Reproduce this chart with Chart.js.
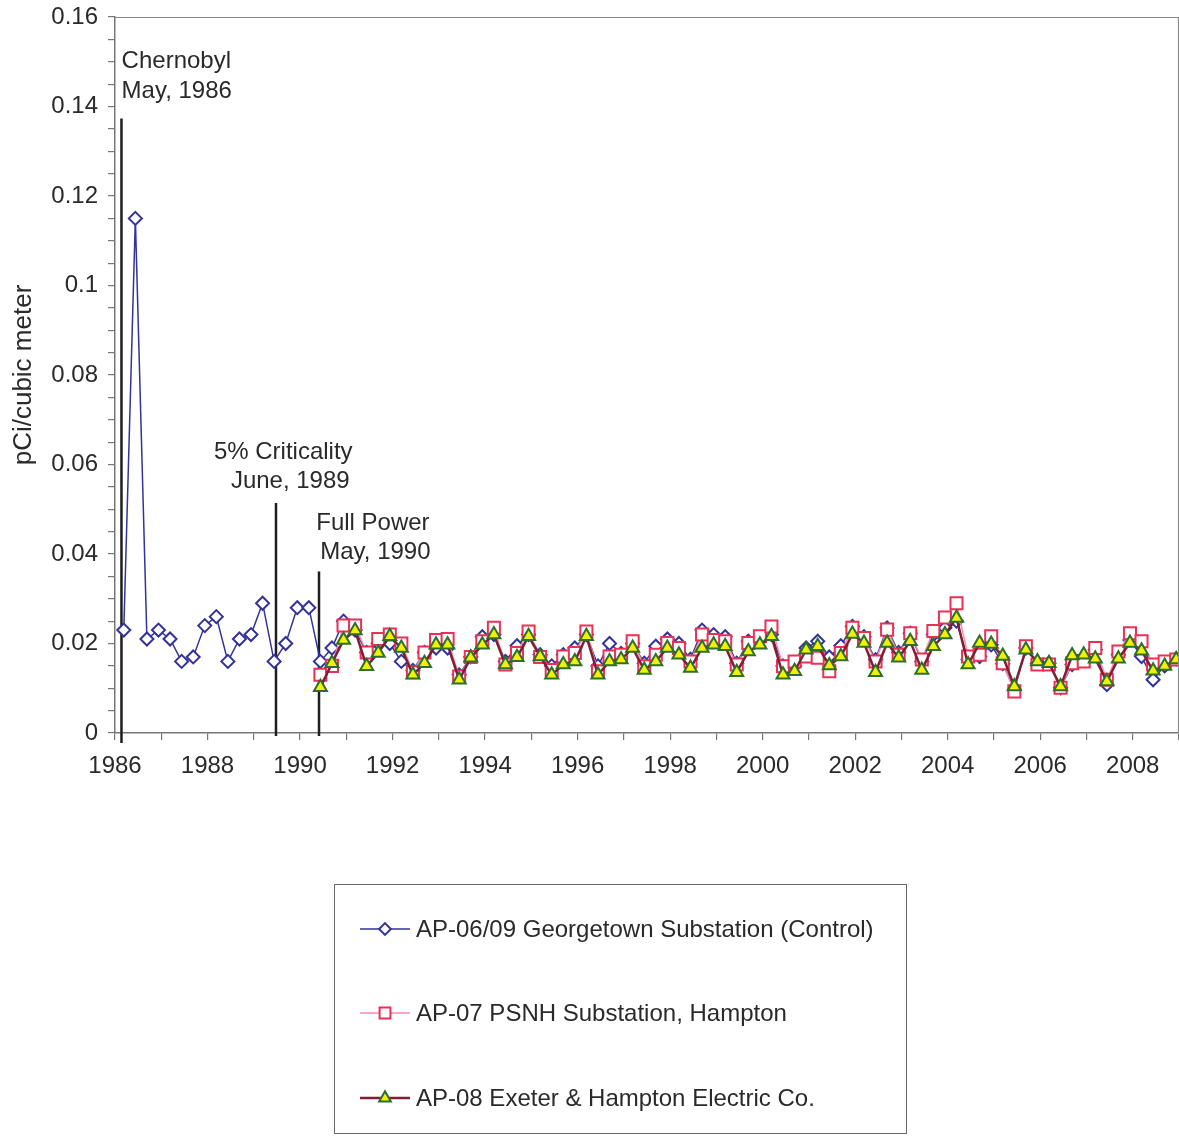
<!DOCTYPE html>
<html>
<head>
<meta charset="utf-8">
<script src="https://cdn.jsdelivr.net/npm/chart.js@4.4.1/dist/chart.umd.min.js"></script>
<style>
  html, body { margin: 0; padding: 0; background: #fff; }
  #wrap { position: relative; width: 1179px; height: 1137px; }
</style>
</head>
<body>
<div id="wrap"><canvas id="chart"></canvas></div>
<script>
// Quarterly air particulate samples, pCi per cubic metre
const firstSample = 1986.19;   // decimal year of the first quarterly sample
const sampleStep = 0.25;       // one quarter
const laterStart = 17;         // quarter index where AP-07 / AP-08 begin

const seriesNames = [
  'AP-06/09 Georgetown Substation (Control)',
  'AP-07 PSNH Substation, Hampton',
  'AP-08 Exeter & Hampton Electric Co.'
];

const georgetown = [
  0.023, 0.115, 0.021, 0.023, 0.021, 0.016, 0.017, 0.024, 0.026, 0.016,
  0.021, 0.022, 0.029, 0.016, 0.020, 0.028, 0.028, 0.016, 0.019, 0.025,
  0.023, 0.018, 0.020, 0.020, 0.016, 0.014, 0.018, 0.019, 0.019, 0.013,
  0.017, 0.0215, 0.022, 0.016, 0.0195, 0.022, 0.0175, 0.015, 0.0175, 0.019,
  0.022, 0.015, 0.020, 0.0178, 0.020, 0.0156, 0.0194, 0.021, 0.020, 0.0165,
  0.023, 0.022, 0.0215, 0.0156, 0.0205, 0.021, 0.022, 0.015, 0.015, 0.019,
  0.0205, 0.017, 0.0195, 0.0238, 0.0215, 0.0164, 0.0235, 0.018, 0.0223, 0.016,
  0.022, 0.0235, 0.025, 0.0164, 0.0171, 0.0197, 0.0155, 0.0097, 0.019, 0.0156,
  0.0156, 0.0101, 0.0153, 0.0164, 0.0186, 0.0108, 0.0175, 0.0208, 0.0171, 0.0119,
  0.015, 0.0166
];

const psnh = [
  0.013, 0.015, 0.024, 0.024, 0.018, 0.021, 0.022, 0.020, 0.0136, 0.018,
  0.0208, 0.021, 0.0126, 0.017, 0.0205, 0.0235, 0.0153, 0.0179, 0.0227, 0.017,
  0.0141, 0.0171, 0.0179, 0.0227, 0.0138, 0.0171, 0.0175, 0.0205, 0.0149, 0.0175,
  0.0201, 0.019, 0.016, 0.022, 0.0208, 0.0205, 0.0153, 0.0201, 0.0216, 0.0238,
  0.0149, 0.016, 0.0171, 0.0168, 0.0138, 0.0179, 0.0235, 0.0212, 0.016, 0.0231,
  0.0175, 0.0223, 0.0164, 0.0228, 0.0258, 0.029, 0.0171, 0.0175, 0.0216, 0.0156,
  0.0093, 0.0194, 0.0153, 0.0153, 0.0101, 0.0156, 0.016, 0.019, 0.0119, 0.0182,
  0.0223, 0.0205, 0.0153, 0.016, 0.0164
];

const exeter = [
  0.0102, 0.0156, 0.0208, 0.0229, 0.0149, 0.0179, 0.0216, 0.019, 0.013, 0.0156,
  0.0197, 0.0197, 0.0119, 0.0168, 0.0197, 0.022, 0.0153, 0.0169, 0.0216, 0.0171,
  0.013, 0.0153, 0.016, 0.0216, 0.013, 0.016, 0.0164, 0.019, 0.0141, 0.016,
  0.019, 0.0175, 0.0145, 0.019, 0.0197, 0.0194, 0.0136, 0.0182, 0.0197, 0.0216,
  0.013, 0.0138, 0.0186, 0.0194, 0.0151, 0.0171, 0.0221, 0.0201, 0.0136, 0.0201,
  0.0168, 0.0205, 0.0141, 0.0194, 0.022, 0.0257, 0.0153, 0.0201, 0.0199, 0.0172,
  0.0104, 0.0186, 0.016, 0.0156, 0.0104, 0.0173, 0.0175, 0.0166, 0.0115, 0.0166,
  0.0201, 0.0184, 0.0139, 0.015, 0.0164
];

// Axis labels
const xTickYears = [1986, 1988, 1990, 1992, 1994, 1996, 1998, 2000, 2002, 2004, 2006, 2008];
const yTickLabels = [0, 0.02, 0.04, 0.06, 0.08, 0.1, 0.12, 0.14, 0.16];

// Plant milestones: vertical marker lines
const eventYears = [1986.14, 1989.48, 1990.41];
const eventTops = [0.1373, 0.0514, 0.0361];
const eventText = [
  ['Chernobyl', 'May, 1986'],
  ['5% Criticality', 'June, 1989'],
  ['Full Power', 'May, 1990']
];

// Where each milestone caption sits (decimal year, value at baseline, alignment)
const captionLayout = [
  [{ x: 1986.143, y: 0.1486, align: 'left' }, { x: 1986.143, y: 0.1419, align: 'left' }],
  [{ x: 1989.637, y: 0.0612, align: 'center' }, { x: 1989.789, y: 0.0548, align: 'center' }],
  [{ x: 1990.35, y: 0.0454, align: 'left' }, { x: 1990.437, y: 0.0389, align: 'left' }]
];
const eventBottomExtra = [10, 3, 3];

const FONT = '"Liberation Sans", Arial, Helvetica, sans-serif';
const TEXT = '#2a2a2a';
const AXIS = '#777777';

function toPoints(values, offset) {
  return values.map((v, i) => ({ x: firstSample + (i + offset) * sampleStep, y: v }));
}

const styles = [
  { line: '#333399', lineWidth: 1.5, stroke: '#333399', fill: '#ffffff', shape: 'rectRot', r: 6.5, pw: 2 },
  { line: '#ff8aa8', lineWidth: 1.5, stroke: '#ee2f55', fill: '#ffffff', shape: 'rect', r: 8.5, pw: 2 },
  { line: '#7d1f35', lineWidth: 2.5, stroke: '#2e6e2e', fill: '#f2f200', shape: 'triangle', r: 7.5, pw: 2 }
];

const seriesData = [toPoints(georgetown, 0), toPoints(psnh, laterStart), toPoints(exeter, laterStart)];

const datasets = seriesData.map((pts, i) => ({
  label: seriesNames[i],
  data: pts,
  borderColor: styles[i].line,
  borderWidth: styles[i].lineWidth,
  pointStyle: styles[i].shape,
  pointRadius: styles[i].r,
  pointBorderColor: styles[i].stroke,
  pointBackgroundColor: styles[i].fill,
  pointBorderWidth: styles[i].pw,
  tension: 0,
  fill: false,
  clip: false,
  order: 3 - i
}));

function drawMarker(ctx, shape, x, y, r, fill, stroke, lw) {
  ctx.beginPath();
  if (shape === 'rectRot') {
    ctx.moveTo(x, y - r); ctx.lineTo(x + r, y); ctx.lineTo(x, y + r); ctx.lineTo(x - r, y);
  } else if (shape === 'rect') {
    const s = r * Math.SQRT1_2;
    ctx.rect(x - s, y - s, 2 * s, 2 * s);
  } else {
    const h = r * Math.sin(Math.PI / 3);
    ctx.moveTo(x, y - r); ctx.lineTo(x + h, y + r / 2); ctx.lineTo(x - h, y + r / 2);
  }
  ctx.closePath();
  ctx.fillStyle = fill; ctx.fill();
  ctx.lineWidth = lw; ctx.strokeStyle = stroke; ctx.stroke();
}

const milestones = {
  id: 'milestones',
  beforeDatasetsDraw(chart) {
    const { ctx, scales: { x, y } } = chart;
    ctx.save();
    ctx.strokeStyle = '#1e1e1e';
    ctx.lineWidth = 2.5;
    eventYears.forEach((yr, i) => {
      const px = x.getPixelForValue(yr);
      ctx.beginPath();
      ctx.moveTo(px, y.getPixelForValue(eventTops[i]));
      ctx.lineTo(px, y.getPixelForValue(0) + eventBottomExtra[i]);
      ctx.stroke();
    });
    ctx.restore();
  },
  afterDraw(chart) {
    const { ctx, scales: { x, y }, chartArea } = chart;
    ctx.save();
    // plot frame, top and right
    ctx.strokeStyle = '#8a8a8a';
    ctx.lineWidth = 1.2;
    ctx.beginPath();
    ctx.moveTo(chartArea.left, chartArea.top + 0.5);
    ctx.lineTo(chartArea.right - 0.5, chartArea.top + 0.5);
    ctx.lineTo(chartArea.right - 0.5, chartArea.bottom);
    ctx.stroke();

    // milestone captions
    ctx.fillStyle = TEXT;
    ctx.font = '24px ' + FONT;
    ctx.textBaseline = 'alphabetic';
    eventText.forEach((lines, i) => {
      lines.forEach((t, j) => {
        const p = captionLayout[i][j];
        ctx.textAlign = p.align;
        ctx.fillText(t, x.getPixelForValue(p.x), y.getPixelForValue(p.y));
      });
    });

    // legend box
    const box = { left: 334.5, top: 884.5, right: 906.5, bottom: 1133.5 };
    ctx.strokeStyle = '#6a6a6a';
    ctx.lineWidth = 1;
    ctx.strokeRect(box.left, box.top, box.right - box.left, box.bottom - box.top);
    const rows = [929, 1013, 1098];
    ctx.textAlign = 'left';
    ctx.textBaseline = 'middle';
    chart.data.datasets.forEach((ds, i) => {
      const ry = rows[i];
      const st = styles[i];
      ctx.strokeStyle = st.line;
      ctx.lineWidth = st.lineWidth;
      ctx.beginPath();
      ctx.moveTo(360, ry); ctx.lineTo(410, ry);
      ctx.stroke();
      drawMarker(ctx, st.shape, 385, ry, st.r * 0.9, st.fill, st.stroke, st.pw);
      ctx.fillStyle = TEXT;
      ctx.font = '24px ' + FONT;
      ctx.fillText(ds.label, 416, ry + 1);
    });
    ctx.restore();
  }
};

new Chart(document.getElementById('chart'), {
  type: 'line',
  data: { datasets },
  options: {
    responsive: true,
    maintainAspectRatio: false,
    animation: false,
    devicePixelRatio: 1,
    layout: { autoPadding: false, padding: { top: 17, left: 0, right: 0, bottom: 0 } },
    plugins: { legend: { display: false }, tooltip: { enabled: false } },
    scales: {
      x: {
        type: 'linear',
        min: 1986,
        max: 2009,
        afterFit(s) {
          s.height = 404;
          s.paddingLeft = 0;
          s.paddingRight = 0;
        },
        border: { display: true, color: AXIS, width: 1.5 },
        grid: { drawOnChartArea: false, drawTicks: true, tickLength: 7, color: AXIS, lineWidth: 1.2 },
        ticks: {
          stepSize: 1,
          autoSkip: false,
          maxRotation: 0,
          padding: 12,
          color: TEXT,
          font: { size: 24, family: FONT },
          callback: (v) => (xTickYears.includes(v) ? String(v) : '')
        }
      },
      y: {
        min: 0,
        max: 0.16,
        afterFit(s) {
          s.width = 115;
          s.paddingTop = 0;
          s.paddingBottom = 0;
        },
        border: { display: true, color: AXIS, width: 1.5 },
        grid: { drawOnChartArea: false, drawTicks: true, tickLength: 7, color: AXIS, lineWidth: 1.2 },
        ticks: {
          stepSize: 0.005,
          autoSkip: false,
          padding: 10,
          color: TEXT,
          font: { size: 24, family: FONT },
          callback: (v) => {
            const hit = yTickLabels.find((t) => Math.abs(t - v) < 1e-9);
            return hit === undefined ? '' : String(hit);
          }
        },
        title: {
          display: true,
          text: 'pCi/cubic meter',
          color: TEXT,
          font: { size: 26, family: FONT },
          padding: { top: 8, bottom: 0 }
        }
      }
    }
  },
  plugins: [milestones]
});
</script>
</body>
</html>
